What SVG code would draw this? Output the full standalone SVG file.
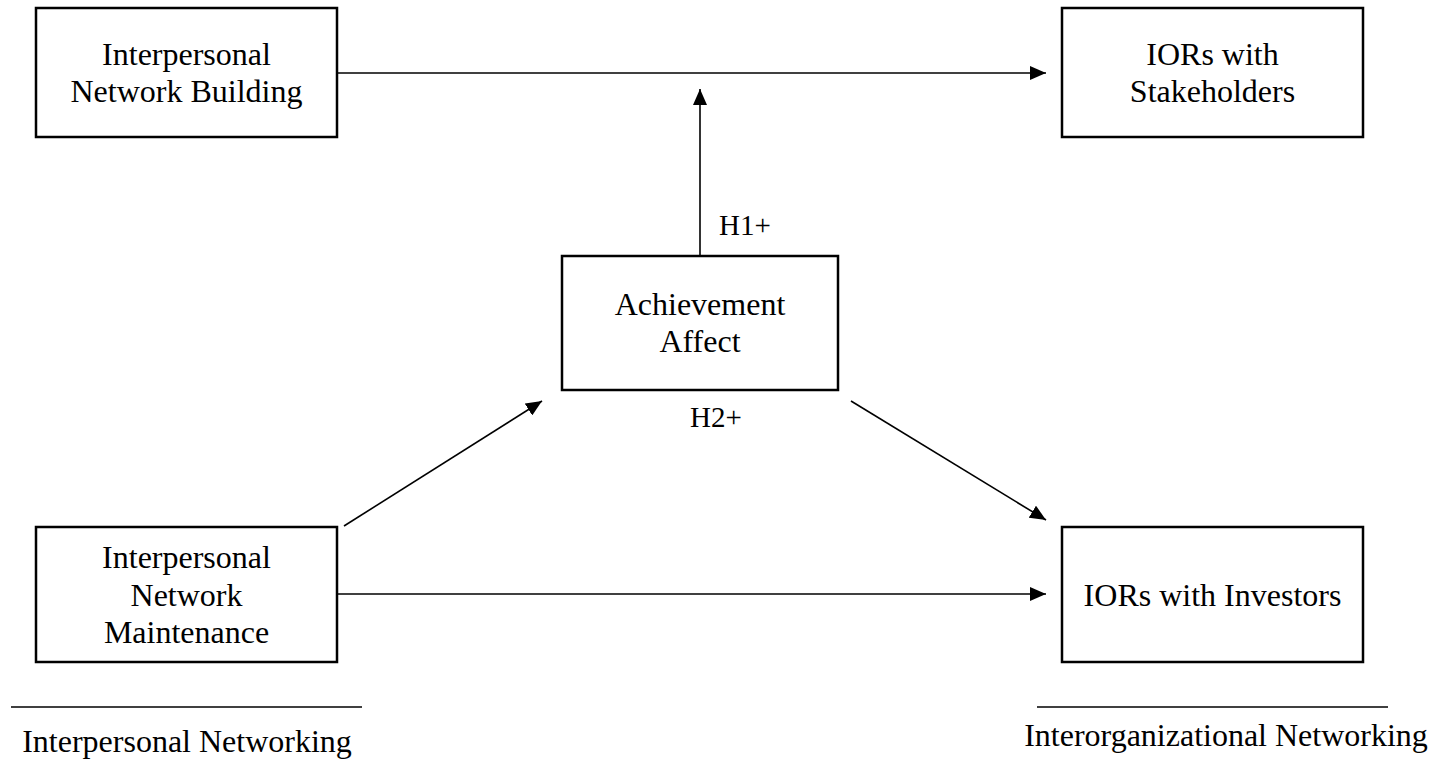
<svg xmlns="http://www.w3.org/2000/svg" width="1435" height="762" viewBox="0 0 1435 762">
<defs>
<style>
.box{fill:#fff;stroke:#000;stroke-width:2.5}
.t{font-family:"Liberation Serif","Times New Roman",serif;font-size:32px;fill:#000;text-anchor:middle}
.lbl{font-family:"Liberation Serif","Times New Roman",serif;font-size:29px;fill:#000}
.ln{stroke:#000;stroke-width:1.6;fill:none}
.rule{stroke:#000;stroke-width:1.3}
</style>
<marker id="ah" viewBox="0 0 16 14" refX="16" refY="7" markerWidth="16" markerHeight="14" markerUnits="userSpaceOnUse" orient="auto">
<path d="M0,0 L16,7 L0,14 Z" fill="#000"/>
</marker>
</defs>
<rect width="1435" height="762" fill="#fff"/>
<g id="connectors">
<line class="ln" x1="337" y1="73" x2="1046" y2="73" marker-end="url(#ah)"/>
<line class="ln" x1="700" y1="256" x2="700" y2="89" marker-end="url(#ah)"/>
<line class="ln" x1="337" y1="594" x2="1046" y2="594" marker-end="url(#ah)"/>
<line class="ln" x1="344" y1="526" x2="542" y2="401" marker-end="url(#ah)"/>
<line class="ln" x1="851" y1="401" x2="1046" y2="520" marker-end="url(#ah)"/>
</g>
<g id="node-building">
<rect class="box" x="36" y="8" width="301" height="129"/>
<text class="t" x="186.5" y="65">Interpersonal</text>
<text class="t" x="186.5" y="102">Network Building</text>
</g>
<g id="node-stakeholders">
<rect class="box" x="1062" y="8" width="301" height="129"/>
<text class="t" x="1212.5" y="65">IORs with</text>
<text class="t" x="1212.5" y="102">Stakeholders</text>
</g>
<g id="node-affect">
<rect class="box" x="562" y="256" width="276" height="134"/>
<text class="t" x="700" y="315">Achievement</text>
<text class="t" x="700" y="352">Affect</text>
</g>
<g id="node-maintenance">
<rect class="box" x="36" y="527" width="301" height="135"/>
<text class="t" x="186.5" y="568">Interpersonal</text>
<text class="t" x="186.5" y="606">Network</text>
<text class="t" x="186.5" y="643">Maintenance</text>
</g>
<g id="node-investors">
<rect class="box" x="1062" y="527" width="301" height="135"/>
<text class="t" x="1212.5" y="606">IORs with Investors</text>
</g>
<g id="labels">
<text class="lbl" x="719" y="235">H1+</text>
<text class="lbl" x="690" y="427">H2+</text>
</g>
<g id="groups">
<line class="rule" x1="11" y1="707" x2="362" y2="707"/>
<text class="t" x="187" y="752">Interpersonal Networking</text>
<line class="rule" x1="1037" y1="707" x2="1388" y2="707"/>
<text class="t" x="1226" y="746">Interorganizational Networking</text>
</g>
</svg>
